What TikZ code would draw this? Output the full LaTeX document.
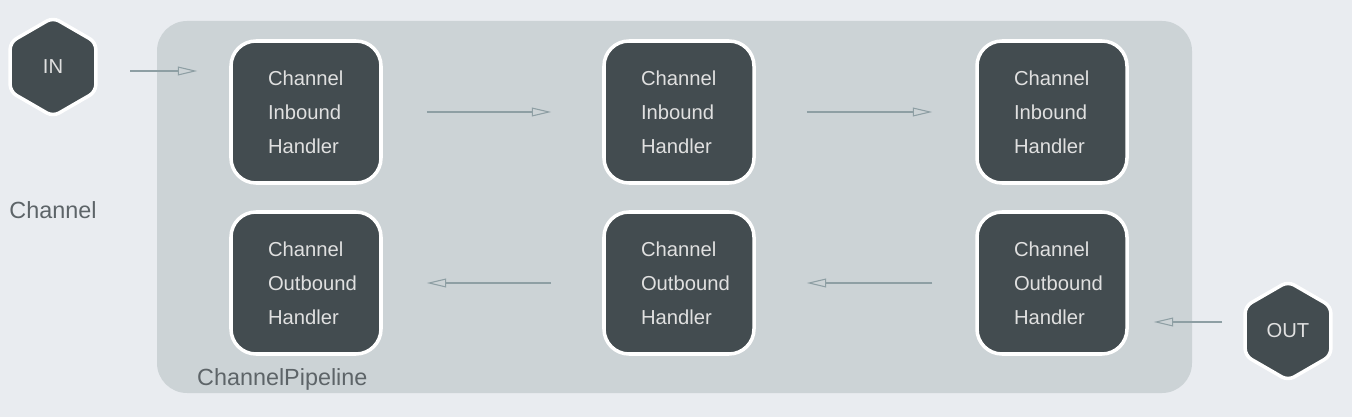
\documentclass[tikz,border=0pt]{standalone}
\usepackage{fontspec}
\setmainfont{Liberation Sans}
\usetikzlibrary{shapes,arrows.meta,positioning}
\definecolor{bgcolor}{HTML}{E9ECF0}
\definecolor{pipecolor}{HTML}{CCD3D6}
\definecolor{darkslate}{HTML}{434C50}
\definecolor{flowgray}{HTML}{8E9FA4}
\definecolor{labelgray}{HTML}{5D6468}
\tikzstyle{handler}=[draw=white,line width=2pt,fill=darkslate,rounded corners=.5cm,
  minimum width=3cm,minimum height=2.84cm,text width=1.52cm,align=left,
  text=white!88!black,font=\fontsize{11.5}{19.3}\selectfont]
\tikzstyle{port}=[draw=white,line width=2pt,fill=darkslate,regular polygon,
  regular polygon sides=6,shape border rotate=30,minimum size=1.98cm,inner sep=0pt,
  rounded corners=4pt,text=white!88!black,font=\fontsize{11.5}{14}\selectfont]
\tikzstyle{flow}=[->,flowgray,line width=.6pt]
\tikzstyle{caption}=[labelgray,font=\fontsize{13.3}{16}\selectfont]

\begin{document}
\begin{tikzpicture}[>={Triangle[open,length=11pt,width=5pt]}, on grid,
    node distance=3.42cm and 7.46cm]
  \useasboundingbox (0,0) rectangle (27.04,8.34);
  \fill[bgcolor] (0,0) rectangle (27.04,8.34);
  \fill[pipecolor,rounded corners=.6cm] (3.14,0.48) rectangle (23.84,7.92);

  \node[handler] at (6.12,6.10)     (ib1) {Channel\\Inbound\\Handler};
  \node[handler, right=of ib1]      (ib2) {Channel\\Inbound\\Handler};
  \node[handler, right=of ib2]      (ib3) {Channel\\Inbound\\Handler};
  \node[handler, below=of ib1]      (ob1) {Channel\\Outbound\\Handler};
  \node[handler, below=of ib2]      (ob2) {Channel\\Outbound\\Handler};
  \node[handler, below=of ib3]      (ob3) {Channel\\Outbound\\Handler};

  \node[port] at (1.06,7.0)         (in)  {IN};
  \node[port] at (25.76,1.72)       (out) {OUT};

  \node[caption] at (1.06,4.14)     (chan) {Channel};
  \node[caption, anchor=west] at (3.82,0.76) (pipe) {ChannelPipeline};

  \draw[flow, shorten <=1.54cm, shorten >=.64cm]
    ([yshift=-.08cm]in.center) -- ([yshift=-.08cm]in.center -| ib1.west);
  \draw[flow, shorten <=.88cm, shorten >=1.02cm] (ib1) -- (ib2);
  \draw[flow, shorten <=1.02cm, shorten >=.86cm] (ib2) -- (ib3);
  \draw[flow, shorten <=.86cm, shorten >=1.02cm] (ob3) -- (ob2);
  \draw[flow, shorten <=1.02cm, shorten >=.88cm] (ob2) -- (ob1);
  \draw[flow, shorten <=1.32cm, shorten >=.5cm]
    ([yshift=.18cm]out.center) -- ([yshift=.18cm]out.center -| ob3.east);
\end{tikzpicture}
\end{document}
